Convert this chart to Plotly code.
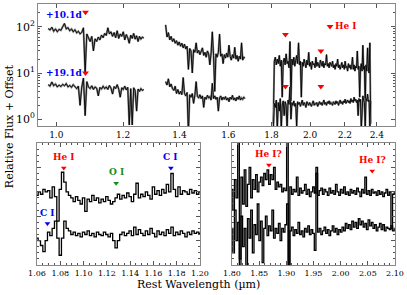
import numpy as np
import plotly.graph_objects as go

# ---------------- data ----------------
# top panel: +10.1d spectrum (three segments)
a1_range = (0.978, 1.270)
a1 = [92, 85, 98, 80, 90, 78, 88, 84, 100, 118, 90, 96, 82, 90, 78, 86, 74, 80, 70, 76,
      95, 10, 70, 55, 48, 62, 30, 55, 48, 60, 52, 66, 58, 72, 65, 95, 70, 78, 62, 75,
      58, 82, 56, 70, 62, 78, 52, 68, 58, 44, 66, 56, 72, 54, 64, 48, 62, 54, 60, 57]
a2_range = (1.348, 1.674)
a2 = [110, 60, 75, 52, 62, 48, 55, 44, 50, 40, 47, 38, 44, 35, 42, 33, 38, 12, 34, 30,
      10, 32, 28, 45, 27, 31, 25, 29, 35, 24, 28, 22, 30, 26, 15, 27, 78, 24, 4, 26,
      22, 28, 70, 23, 26, 16, 25, 21, 27, 22, 40, 23, 19, 25, 21, 36, 20, 24, 18, 23,
      20, 45, 19, 22, 21]
a3_range = (1.809, 2.360)
a3 = [0.8, 18, 22, 15, 20, 16, 24, 14, 19, 3, 17, 21, 15, 26, 16, 18, 13, 48, 2.5, 20,
      15, 22, 14, 19, 24, 16, 45, 15, 18, 3, 17, 14, 20, 16, 13, 19, 15, 28, 14, 17,
      12, 18, 15, 16, 13, 22, 14, 17, 15, 13, 19, 16, 14, 18, 13, 16, 15, 25, 14, 16,
      13, 17, 15, 14, 18, 13, 15, 12, 16, 14, 20, 13, 15, 12, 14, 17, 13, 15, 12, 18,
      13, 14, 11, 16, 13, 15, 12, 14, 22, 12, 15, 11, 14, 13, 30, 12, 14, 3, 13, 16,
      11, 40, 12, 14, 2, 15, 11, 35, 13, 10, 45, 0.8]

# top panel: +19.1d spectrum
b1 = [5.6, 5.2, 6.4, 5.3, 5.8, 5.0, 5.5, 5.1, 5.7, 5.3, 5.9, 5.0, 5.4, 4.9, 5.6, 5.0, 4.6, 5.2, 2.0, 5.0,
      7.8, 1.2, 6.5, 5.0, 4.6, 5.3, 4.4, 5.0, 4.7, 3.2, 4.9, 4.5, 5.2, 4.6, 5.0, 4.4, 5.4, 4.7, 3.5, 5.1,
      4.6, 5.6, 4.5, 3.0, 4.8, 4.4, 5.2, 4.3, 4.9, 0.75, 4.6, 0.75, 4.8, 4.2, 1.5, 4.5, 4.0, 4.6, 4.2, 4.4]
b2 = [6.5, 5.5, 7.5, 5.0, 5.8, 4.6, 4.2, 5.2, 3.6, 4.4, 3.5, 4.0, 3.4, 8.0, 3.6, 3.2, 3.8, 0.5, 3.4, 3.0,
      3.6, 2.2, 3.3, 6.5, 3.1, 2.9, 3.4, 2.8, 3.2, 1.8, 3.0, 2.7, 3.3, 2.9, 3.1, 2.6, 6.0, 2.8, 3.2, 2.7,
      3.0, 1.5, 2.9, 3.2, 2.6, 3.0, 2.7, 3.1, 2.6, 2.9, 2.4, 3.0, 2.7, 3.3, 2.6, 2.9, 2.5, 3.0, 2.7, 3.2,
      2.6, 2.9, 2.7, 3.0, 2.8]
b3 = [0.6, 2.2, 1.8, 2.6, 0.6, 2.3, 1.5, 2.8, 0.6, 2.0, 2.5, 1.2, 2.4, 2.0, 0.6, 2.6, 2.1, 5.0, 1.0, 2.3,
      2.0, 2.5, 1.9, 2.2, 0.7, 2.4, 2.1, 2.3, 1.9, 2.2, 2.6, 2.0, 2.3, 2.1, 1.8, 2.4, 2.2, 2.0, 2.3, 2.1,
      1.9, 2.2, 2.5, 2.0, 2.2, 2.1, 2.3, 1.9, 2.2, 2.4, 2.1, 2.3, 2.0, 2.2, 2.6, 2.1, 2.3, 2.0, 2.4, 2.2,
      2.5, 2.1, 2.3, 2.2, 2.0, 2.4, 2.3, 2.1, 2.5, 2.2, 2.4, 2.0, 2.3, 2.6, 2.2, 2.4, 2.1, 2.5, 2.3, 2.7,
      2.2, 2.4, 2.6, 2.3, 2.5, 2.2, 2.8, 2.4, 2.6, 2.3, 3.0, 2.5, 2.7, 2.3, 2.6, 1.2, 2.8, 2.4, 2.7, 0.6,
      2.5, 3.2, 2.6, 2.3, 0.6, 2.8, 2.5, 3.5, 2.4, 2.6, 0.6, 2.5]

# bottom-left zoom (1.06-1.20 um), relative flux
zl_range = (1.060, 1.200)
zl_up = [0.57, 0.60, 0.58, 0.62, 0.60, 0.61, 0.55, 0.64, 0.56, 0.36, 0.62, 0.76, 0.68, 0.60, 0.57, 0.55,
         0.52, 0.56, 0.53, 0.50, 0.55, 0.44, 0.54, 0.52, 0.57, 0.53, 0.55, 0.51, 0.54, 0.52, 0.56, 0.53,
         0.50, 0.52, 0.55, 0.58, 0.54, 0.57, 0.55, 0.59, 0.56, 0.52, 0.58, 0.67, 0.55, 0.58, 0.56, 0.60,
         0.57, 0.54, 0.64, 0.58, 0.61, 0.57, 0.62, 0.59, 0.66, 0.60, 0.75, 0.62, 0.56, 0.64, 0.58, 0.61,
         0.60, 0.58, 0.62, 0.59, 0.61, 0.58, 0.60]
zl_lo = [0.22, 0.20, 0.16, 0.11, 0.20, 0.27, 0.24, 0.30, 0.36, 0.22, 0.08, 0.22, 0.36, 0.30, 0.28, 0.25,
         0.27, 0.24, 0.26, 0.23, 0.27, 0.25, 0.28, 0.24, 0.26, 0.23, 0.27, 0.25, 0.24, 0.27, 0.25, 0.23,
         0.26, 0.20, 0.14, 0.20, 0.25, 0.27, 0.24, 0.26, 0.28, 0.24, 0.31, 0.25, 0.29, 0.26, 0.24, 0.28,
         0.25, 0.30, 0.26, 0.23, 0.28, 0.25, 0.27, 0.24, 0.29, 0.26, 0.31, 0.24, 0.27, 0.25, 0.28, 0.26,
         0.23, 0.27, 0.25, 0.28, 0.26, 0.27, 0.26]

# bottom-right zoom (1.80-2.10 um), relative flux
zr_range = (1.800, 2.100)
zr_up = [0.62, 0.45, 0.70, 0.55, 1.20, -0.10, 0.72, 0.50, 0.78, 0.48, 0.66, 0.80, 0.55, 0.70, 0.62, 0.74,
         0.60, 0.68, 0.72, 0.65, 0.75, 0.70, 0.78, 0.66, 0.74, 0.70, 0.80, 0.62, 0.68, 0.64, 0.66, 0.60,
         0.63, 0.61, 1.20, -0.10, 0.64, 0.58, 0.62, 0.60, 0.72, 0.57, 0.63, 0.59, 0.61, 0.66, 0.58, 0.62,
         0.56, 0.60, 0.64, 0.59, 0.75, 0.57, 0.61, 0.63, 0.58, 0.62, 0.60, 0.57, 0.63, 0.59, 0.61, 0.58,
         0.66, 0.60, 0.57, 0.62, 0.59, 0.64, 0.58, 0.60, 0.57, 0.62, 0.59, 0.61, 0.58, 0.63, 0.60, 0.56,
         0.62, 0.59, 0.72, 0.58, 0.61, 0.57, 0.62, 0.59, 0.60, 0.57, 0.61, 0.58, 0.60, 0.56, 0.59, 0.62,
         0.57, 0.60, 0.30, 0.58, 0.59]
zr_lo = [0.30, 0.10, 0.45, 0.20, 0.35, 0.05, 0.40, 0.15, 0.30, -0.05, 0.38, 0.22, 0.45, 0.10, 0.33, 0.25,
         0.50, 0.20, 0.36, 0.02, 0.30, 0.40, 0.24, 0.32, 0.28, 0.45, 0.22, 0.30, 0.26, 0.34, 0.20, 0.30,
         0.27, 0.33, 0.50, -0.10, 0.28, 0.31, 0.24, 0.29, 0.26, 0.35, 0.25, 0.28, 0.23, 0.30, 0.27, 0.32,
         0.25, 0.29, 0.26, 0.12, 0.80, 0.27, 0.30, 0.25, 0.28, 0.31, 0.26, 0.29, 0.24, 0.28, 0.32, 0.27,
         0.30, 0.25, 0.29, 0.27, 0.31, 0.28, 0.34, 0.30, 0.33, 0.29, 0.36, 0.31, 0.35, 0.30, 0.38, 0.33,
         0.36, 0.31, 0.34, 0.29, 0.37, 0.32, 0.35, 0.30, 0.33, 0.28, 0.31, 0.34, 0.29, 0.33, 0.28, 0.31,
         0.30, 0.29, 0.32, 0.28, 0.30]

# line markers (wavelength, flux)
top_marks_x = [1.083, 1.083, 1.87, 2.06, 1.87, 2.06]
top_marks_y = [205, 10, 68, 30, 5.1, 5.1]
epoch_labels = ["+10.1d", "+19.1d"]
epoch_y = [180, 10]
top_xticks = [1.0, 1.2, 1.4, 1.6, 1.8, 2.0, 2.2, 2.4]

zl_lines = [("He I", 1.083, 0.795, "#ff0000"), ("O I", 1.128, 0.67, "#1a8c1a"),
            ("C I", 1.175, 0.795, "#0000ff"), ("C I", 1.069, 0.34, "#0000ff")]
zr_lines = [("He I?", 1.868, 0.82, "#ff0000"), ("He I?", 2.058, 0.77, "#ff0000")]

# ---------------- figure ----------------
FONT = "DejaVu Serif"
fig = go.Figure()


def seg(rng, vals):
    return np.linspace(rng[0], rng[1], len(vals))


for rng, vals in [(a1_range, a1), (a2_range, a2), (a3_range, a3),
                  (a1_range, b1), (a2_range, b2), (a3_range, b3)]:
    x = seg(rng, vals)
    fig.add_trace(go.Scatter(x=x, y=vals, mode="lines", line=dict(color="#8a8a8a", width=2.0),
                             xaxis="x", yaxis="y", hoverinfo="skip", showlegend=False))
    fig.add_trace(go.Scatter(x=x, y=vals, mode="lines", line=dict(color="black", width=0.9),
                             xaxis="x", yaxis="y", showlegend=False))

fig.add_trace(go.Scatter(x=top_marks_x + [2.112], y=top_marks_y + [102], mode="markers",
                         marker=dict(symbol="triangle-down", color="red", size=6),
                         xaxis="x", yaxis="y", showlegend=False))

for vals in [zl_up, zl_lo]:
    fig.add_trace(go.Scatter(x=seg(zl_range, vals), y=vals, mode="lines", line_shape="hvh",
                             line=dict(color="black", width=1.3), xaxis="x2", yaxis="y2",
                             showlegend=False))
for vals in [zr_up, zr_lo]:
    fig.add_trace(go.Scatter(x=seg(zr_range, vals), y=vals, mode="lines", line_shape="hvh",
                             line=dict(color="black", width=1.3), xaxis="x3", yaxis="y3",
                             showlegend=False))

for lines, xa, ya in [(zl_lines, "x2", "y2"), (zr_lines, "x3", "y3")]:
    fig.add_trace(go.Scatter(x=[l[1] for l in lines], y=[l[2] for l in lines], mode="markers",
                             marker=dict(symbol="triangle-down", color=[l[3] for l in lines], size=5),
                             xaxis=xa, yaxis=ya, showlegend=False))

ann = []
for lab, yv in zip(epoch_labels, epoch_y):
    ann.append(dict(x=np.log10(1.021), y=np.log10(yv), xref="x", yref="y", text="<b>%s</b>" % lab,
                    xanchor="center", yanchor="middle",
                    showarrow=False, font=dict(family=FONT, size=9, color="#0000ff")))
ann.append(dict(x=np.log10(2.13), y=np.log10(102), xref="x", yref="y", text="<b>He I</b>",
                xanchor="left", yanchor="middle",
                showarrow=False, font=dict(family=FONT, size=9, color="red")))
for lines, xa, ya in [(zl_lines, "x2", "y2"), (zr_lines, "x3", "y3")]:
    for lab, xv, yv, col in lines:
        ann.append(dict(x=xv, y=yv, xref=xa, yref=ya, text="<b>%s</b>" % lab, yshift=11,
                        xanchor="center", yanchor="middle",
                        showarrow=False, font=dict(family=FONT, size=9, color=col)))
ann.append(dict(x=0.025, y=0.573, xref="paper", yref="paper", text="Relative Flux + Offset",
                xanchor="center", yanchor="middle",
                textangle=-90, showarrow=False, font=dict(family=FONT, size=11, color="black")))
ann.append(dict(x=0.487, y=0.034, xref="paper", yref="paper", text="Rest Wavelength (µm)",
                xanchor="center", yanchor="middle",
                showarrow=False, font=dict(family=FONT, size=11, color="black")))

axcommon = dict(showline=True, linecolor="#888888", linewidth=1, mirror="allticks", ticks="inside",
                ticklen=4, tickcolor="#555555", showgrid=False, zeroline=False, automargin=False,
                tickfont=dict(family=FONT, size=9, color="black"))

fig.update_layout(
    width=407, height=295, margin=dict(l=0, r=0, t=0, b=0, pad=0, autoexpand=False),
    paper_bgcolor="white", plot_bgcolor="white",
    annotations=ann,
    xaxis=dict(axcommon, domain=[0.0934, 0.9705], type="log", range=[-0.0217, 0.4018],
               tickmode="array", tickvals=top_xticks, ticktext=["%.1f" % v for v in top_xticks],
               anchor="y"),
    yaxis=dict(axcommon, domain=[0.573, 0.986], type="log", range=[-0.145, 2.49],
               tickmode="array", tickvals=[1, 10, 100],
               ticktext=["10<sup>0</sup>", "10<sup>1</sup>", "10<sup>2</sup>"],
               tickfont=dict(family=FONT, size=11, color="black"),
               minor=dict(ticks="inside", ticklen=2, tickcolor="#555555", tickmode="array",
                          tickvals=[2, 3, 4, 5, 6, 7, 8, 9, 20, 30, 40, 50, 60, 70, 80, 90, 200, 300]),
               anchor="x"),
    xaxis2=dict(axcommon, domain=[0.0909, 0.4914], range=[1.06, 1.20], dtick=0.02, tickformat=".2f",
                tickfont=dict(family=FONT, size=8, color="black"),
                minor=dict(ticks="inside", ticklen=2, tickcolor="#555555", dtick=0.005), anchor="y2"),
    yaxis2=dict(axcommon, domain=[0.1017, 0.5153], range=[0, 1], dtick=0.2, showticklabels=False,
                minor=dict(ticks="inside", ticklen=2, tickcolor="#555555", dtick=0.05), anchor="x2"),
    xaxis3=dict(axcommon, domain=[0.570, 0.9705], range=[1.8, 2.1], dtick=0.05, tickformat=".2f",
                tickfont=dict(family=FONT, size=8, color="black"),
                minor=dict(ticks="inside", ticklen=2, tickcolor="#555555", dtick=0.01), anchor="y3"),
    yaxis3=dict(axcommon, domain=[0.1017, 0.5153], range=[0, 1], dtick=0.2, showticklabels=False,
                minor=dict(ticks="inside", ticklen=2, tickcolor="#555555", dtick=0.05), anchor="x3"),
)

fig.write_html("out.html", config={"displayModeBar": False},
               post_script="document.body.style.margin='0';document.body.style.padding='0';")
